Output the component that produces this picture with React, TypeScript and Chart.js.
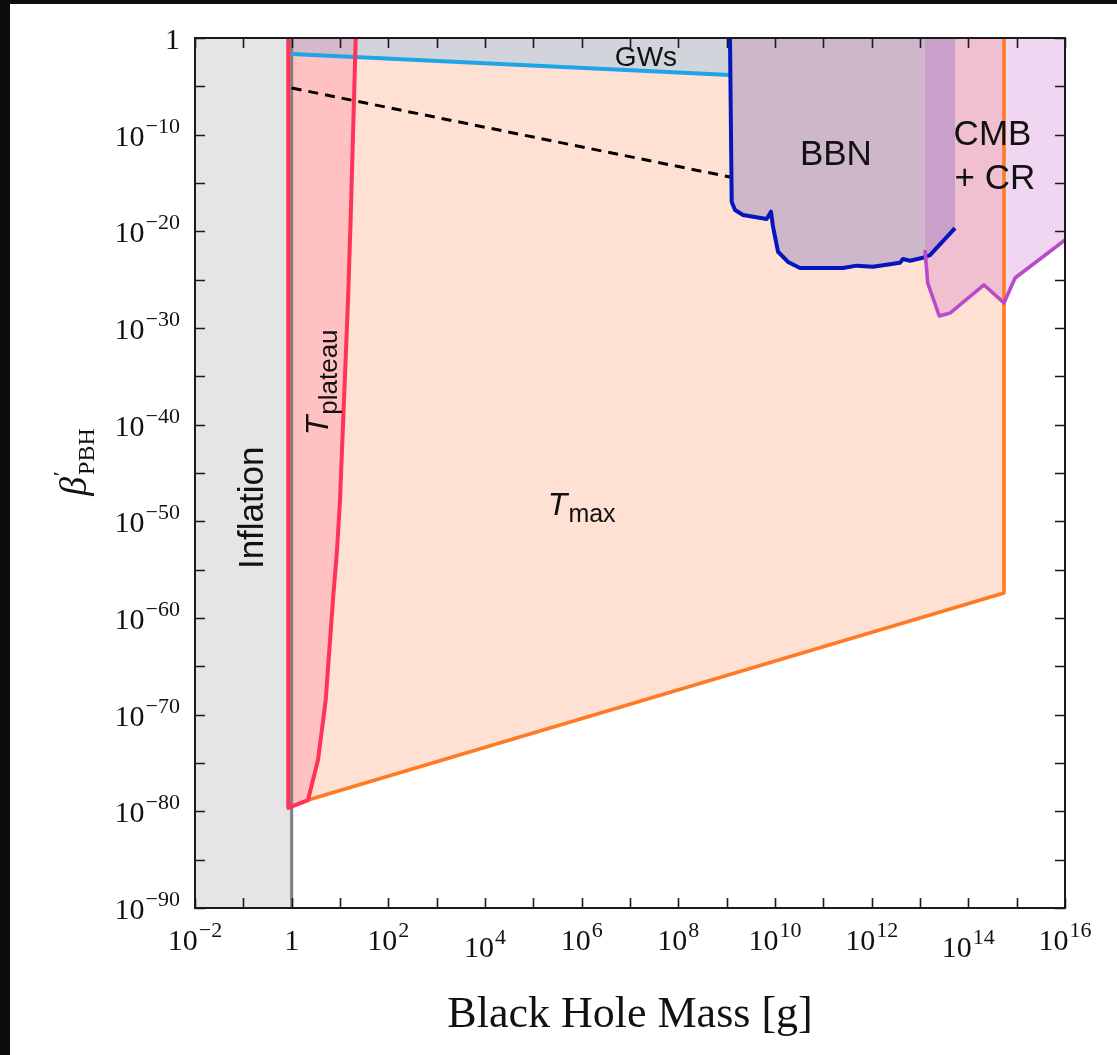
import React, { useEffect, useRef } from "react";
import { Chart, registerables } from "chart.js";

Chart.register(...registerables);

// ---------- axis setup (log10 exponents) ----------
const xTickExps = [-2, -1, 0, 1, 2, 3, 4, 5, 6, 7, 8, 9, 10, 11, 12, 13, 14, 15, 16];
const xLabelExps = [-2, 0, 2, 4, 6, 8, 10, 12, 14, 16];
const yTickExps = [0, -5, -10, -15, -20, -25, -30, -35, -40, -45, -50, -55, -60, -65, -70, -75, -80, -85, -90];
const yLabelExps = [0, -10, -20, -30, -40, -50, -60, -70, -80, -90];

// ---------- data (log10 of mass [g], log10 of beta') ----------
const inflationLogM = [-2, -2, 0, 0];
const inflationLogBeta = [0, -90, -90, 0];

const tmaxLogM = [-0.07, -0.07, 0.338, 14.738, 14.738];
const tmaxLogBeta = [0, -79.65, -78.83, -57.41, 0];

const plateauLogM = [-0.07, -0.07, 0.338, 0.545, 0.704, 0.855, 0.938, 1.0, 1.166, 1.22, 1.325];
const plateauLogBeta = [0, -79.65, -78.83, -74.7, -68.5, -58.1, -53.0, -47.8, -27.1, -18.8, 0];

const gwLogM = [0, 9.069];
const gwLogBeta = [-1.66, -3.83];

const dashLogM = [0, 9.069];
const dashLogBeta = [-5.17, -14.38];

const bbnLogM = [9.069, 9.104, 9.172, 9.338, 9.828, 9.917, 9.959, 10.062, 10.269, 10.517, 11.407, 11.69, 12.028, 12.586, 12.648, 12.793, 13.035, 13.207, 13.724];
const bbnLogBeta = [0, -16.93, -17.79, -18.31, -18.72, -17.97, -19.52, -22.11, -23.17, -23.79, -23.79, -23.55, -23.66, -23.24, -22.86, -23.04, -22.76, -22.45, -19.66];

const cmbLogM = [13.104, 13.159, 13.399, 13.621, 14.324, 14.738, 14.966, 16.0];
const cmbLogBeta = [-21.93, -25.34, -28.76, -28.45, -25.55, -27.41, -24.83, -20.9];

// ---------- helpers ----------
type P = { x: number; y: number };
const pts = (lm: number[], lb: number[]): P[] => lm.map((m, i) => ({ x: Math.pow(10, m), y: Math.pow(10, lb[i]) }));
const pt = (m: number, b: number): P => ({ x: Math.pow(10, m), y: Math.pow(10, b) });
function interpLog(lm: number[], lb: number[], m: number): number {
  for (let i = 0; i < lm.length - 1; i++) {
    if (m >= lm[i] && m <= lm[i + 1]) {
      const t = lm[i + 1] === lm[i] ? 0 : (m - lm[i]) / (lm[i + 1] - lm[i]);
      return lb[i] + t * (lb[i + 1] - lb[i]);
    }
  }
  return lb[lb.length - 1];
}

const W = 1107;
const H = 1051;

function poly(data: P[], color: string, order: number) {
  return {
    data,
    showLine: true,
    fill: "shape",
    backgroundColor: color,
    borderColor: "rgba(0,0,0,0)",
    borderWidth: 0,
    pointRadius: 0,
    tension: 0,
    order,
  };
}
function line(data: P[], color: string, width: number, order: number, dash: number[] = []) {
  return {
    data,
    showLine: true,
    fill: false,
    borderColor: color,
    backgroundColor: color,
    borderWidth: width,
    borderDash: dash,
    borderJoinStyle: "round",
    pointRadius: 0,
    tension: 0,
    order,
  };
}

function drawPow(ctx: CanvasRenderingContext2D, exp: number, x: number, y: number, align: "center" | "right") {
  const baseFont = '30px "Liberation Serif"';
  const supFont = '22px "Liberation Serif"';
  ctx.textBaseline = "alphabetic";
  ctx.fillStyle = "#111";
  if (exp === 0) {
    ctx.font = baseFont;
    ctx.textAlign = align;
    ctx.fillText("1", x, y);
    return;
  }
  ctx.font = baseFont;
  const bw = ctx.measureText("10").width;
  const sup = exp < 0 ? "\u2212" + Math.abs(exp) : String(exp);
  ctx.font = supFont;
  const sw = ctx.measureText(sup).width;
  const total = bw + sw + 1;
  const x0 = align === "center" ? x - total / 2 : x - total;
  ctx.textAlign = "left";
  ctx.font = baseFont;
  ctx.fillText("10", x0, y);
  ctx.font = supFont;
  ctx.fillText(sup, x0 + bw + 1, y - 13);
}

const decoPlugin = {
  id: "deco",
  afterDatasetsDraw(chart: any) {
    const { ctx, scales } = chart;
    const X = (m: number) => scales.x.getPixelForValue(Math.pow(10, m));
    const Y = (b: number) => scales.y.getPixelForValue(Math.pow(10, b));
    ctx.save();
    ctx.fillStyle = "#111";
    ctx.textAlign = "center";
    ctx.textBaseline = "middle";
    const sans = '"Liberation Sans", Arial, sans-serif';
    ctx.font = `28px ${sans}`;
    ctx.fillText("GWs", X(7.33), Y(-2.1));
    ctx.font = `35px ${sans}`;
    ctx.fillText("BBN", X(11.26), Y(-12.1));
    ctx.fillText("CMB", X(14.5), Y(-10.1));
    ctx.fillText("+ CR", X(14.55), Y(-14.6));
    // Inflation (rotated)
    ctx.save();
    ctx.translate(X(-0.8), Y(-48.6));
    ctx.rotate(-Math.PI / 2);
    ctx.font = `35px ${sans}`;
    ctx.fillText("Inflation", 0, 0);
    ctx.restore();
    // T_plateau (rotated)
    ctx.save();
    ctx.translate(X(0.76), Y(-41.1));
    ctx.rotate(-Math.PI / 2);
    ctx.textAlign = "left";
    ctx.textBaseline = "alphabetic";
    ctx.font = `italic 32px ${sans}`;
    ctx.fillText("T", 0, 0);
    const tw = ctx.measureText("T").width;
    ctx.font = `26px ${sans}`;
    ctx.fillText("plateau", tw + 1, 9);
    ctx.restore();
    // T_max
    ctx.textAlign = "left";
    ctx.textBaseline = "alphabetic";
    ctx.font = `italic 32px ${sans}`;
    const tx = X(5.3);
    const ty = Y(-49.3);
    ctx.fillText("T", tx, ty);
    const tw2 = ctx.measureText("T").width;
    ctx.font = `25px ${sans}`;
    ctx.fillText("max", tx + tw2 + 1, ty + 7);
    ctx.restore();
  },
  afterDraw(chart: any) {
    const { ctx, chartArea: a, scales } = chart;
    const xs = scales.x;
    const ys = scales.y;
    ctx.save();
    ctx.strokeStyle = "#1a1a1a";
    ctx.lineWidth = 1.6;
    ctx.beginPath();
    for (const e of xTickExps) {
      const px = Math.round(xs.getPixelForValue(Math.pow(10, e))) + 0.5;
      ctx.moveTo(px, a.bottom);
      ctx.lineTo(px, a.bottom - 10);
      ctx.moveTo(px, a.top);
      ctx.lineTo(px, a.top + 10);
    }
    for (const e of yTickExps) {
      const py = Math.round(ys.getPixelForValue(Math.pow(10, e))) + 0.5;
      ctx.moveTo(a.left, py);
      ctx.lineTo(a.left + 10, py);
      ctx.moveTo(a.right, py);
      ctx.lineTo(a.right - 10, py);
    }
    ctx.stroke();
    ctx.lineWidth = 2;
    ctx.strokeRect(a.left, a.top, a.right - a.left, a.bottom - a.top);

    for (const e of xLabelExps) {
      const px = xs.getPixelForValue(Math.pow(10, e));
      const dy = e === 4 || e === 14 ? 7 : 0;
      drawPow(ctx, e, px, a.bottom + 42 + dy, "center");
    }
    for (const e of yLabelExps) {
      const py = ys.getPixelForValue(Math.pow(10, e));
      drawPow(ctx, e, a.left - 15, py + 11, "right");
    }

    // x title
    ctx.fillStyle = "#111";
    ctx.font = '44px "Liberation Serif"';
    ctx.textAlign = "center";
    ctx.textBaseline = "alphabetic";
    ctx.fillText("Black Hole Mass [g]", (a.left + a.right) / 2, 1023);

    // y title: beta'_PBH
    ctx.save();
    ctx.translate(76, 458);
    ctx.rotate(-Math.PI / 2);
    ctx.textAlign = "left";
    ctx.font = 'italic 38px "Liberation Serif"';
    const bw = ctx.measureText("\u03b2").width;
    ctx.font = '24px "Liberation Serif"';
    const sw = ctx.measureText("PBH").width;
    const x0 = -(bw + sw + 2) / 2;
    ctx.font = 'italic 38px "Liberation Serif"';
    ctx.fillText("\u03b2", x0, 0);
    ctx.font = '22px "Liberation Serif"';
    ctx.fillText("\u2032", x0 + bw + 1, -18);
    ctx.font = '24px "Liberation Serif"';
    ctx.fillText("PBH", x0 + bw + 2, 8);
    ctx.restore();
    ctx.restore();
  },
};

export default function App() {
  const ref = useRef<HTMLCanvasElement | null>(null);
  useEffect(() => {
    if (!ref.current) return;
    const orangeX = tmaxLogM[3];
    const plateauTopM = plateauLogM[plateauLogM.length - 1];

    const gwFill = [pt(gwLogM[0], 0), ...pts(gwLogM, gwLogBeta), pt(gwLogM[1], 0)];
    const mauve = [
      pt(gwLogM[0], 0),
      pt(gwLogM[0], gwLogBeta[0]),
      pt(plateauTopM, interpLog(gwLogM, gwLogBeta, plateauTopM)),
      pt(plateauTopM, 0),
    ];
    const bbnLast = bbnLogM[bbnLogM.length - 1];
    const bbnFill = [...pts(bbnLogM, bbnLogBeta), pt(bbnLast, 0)];

    const cmbL = cmbLogM[0];
    const ovM: number[] = [cmbL];
    const ovB: number[] = [interpLog(bbnLogM, bbnLogBeta, cmbL)];
    bbnLogM.forEach((m, i) => {
      if (m > cmbL) {
        ovM.push(m);
        ovB.push(bbnLogBeta[i]);
      }
    });
    const overlap = [pt(cmbL, 0), ...pts(ovM, ovB), pt(bbnLast, 0)];

    const pinkM: number[] = [];
    const pinkB: number[] = [];
    const lilacM: number[] = [];
    const lilacB: number[] = [];
    cmbLogM.forEach((m, i) => {
      if (m <= orangeX) { pinkM.push(m); pinkB.push(cmbLogBeta[i]); }
      if (m >= orangeX) { lilacM.push(m); lilacB.push(cmbLogBeta[i]); }
    });
    const pink = [pt(pinkM[0], 0), ...pts(pinkM, pinkB), pt(orangeX, 0)];
    const lilac = [pt(orangeX, 0), ...pts(lilacM, lilacB), pt(lilacM[lilacM.length - 1], 0)];

    const orangeLine = pts(tmaxLogM.slice(2), tmaxLogBeta.slice(2));

    const datasets: any[] = [
      poly(pts(inflationLogM, inflationLogBeta), "#e5e5e5", 40),
      poly(pts(tmaxLogM, tmaxLogBeta), "#fee1d3", 39),
      poly(pts(plateauLogM, plateauLogBeta), "#ffc1c1", 38),
      poly(gwFill, "#d1d5db", 37),
      poly(mauve, "#d5b9c8", 36),
      poly(bbnFill, "#cfb7cb", 35),
      poly(pink, "#f1c0d0", 34),
      poly(lilac, "#f0d6f0", 33),
      poly(overlap, "#c9a0ca", 32),
      line([pt(0, 0), pt(0, -90)], "#7f7f7f", 3, 20),
      line(pts(dashLogM, dashLogBeta), "#000000", 3, 19, [10, 7]),
      line(pts(gwLogM, gwLogBeta), "#1ea4e9", 4, 18),
      line(orangeLine, "#ff7a25", 3.6, 17),
      line(pts(plateauLogM, plateauLogBeta), "#ff3358", 4, 16),
      line(pts(bbnLogM, bbnLogBeta), "#0516bd", 4, 15),
      line(pts(cmbLogM, cmbLogBeta), "#b84cc8", 3.6, 14),
    ];

    const chart = new Chart(ref.current, {
      type: "scatter",
      data: { datasets },
      options: {
        animation: false,
        responsive: false,
        maintainAspectRatio: false,
        devicePixelRatio: 1,
        layout: { padding: { left: 185, top: 34, right: 52, bottom: 147 } },
        scales: {
          x: { type: "logarithmic", min: 1e-2, max: 1e16, display: false },
          y: { type: "logarithmic", min: 1e-90, max: 1, display: false },
        },
        plugins: { legend: { display: false }, tooltip: { enabled: false } },
        elements: { point: { radius: 0 }, line: { tension: 0 } },
      } as any,
      plugins: [decoPlugin as any],
    });
    return () => chart.destroy();
  }, []);

  return (
    <div style={{ position: "fixed", left: 0, top: 0, width: 1117, height: 1055, background: "#0d0d0d" }}>
      <div style={{ position: "absolute", left: 10, top: 4, width: W, height: H, background: "#ffffff" }}>
        <canvas ref={ref} width={W} height={H} style={{ display: "block", width: W, height: H }} />
      </div>
    </div>
  );
}
